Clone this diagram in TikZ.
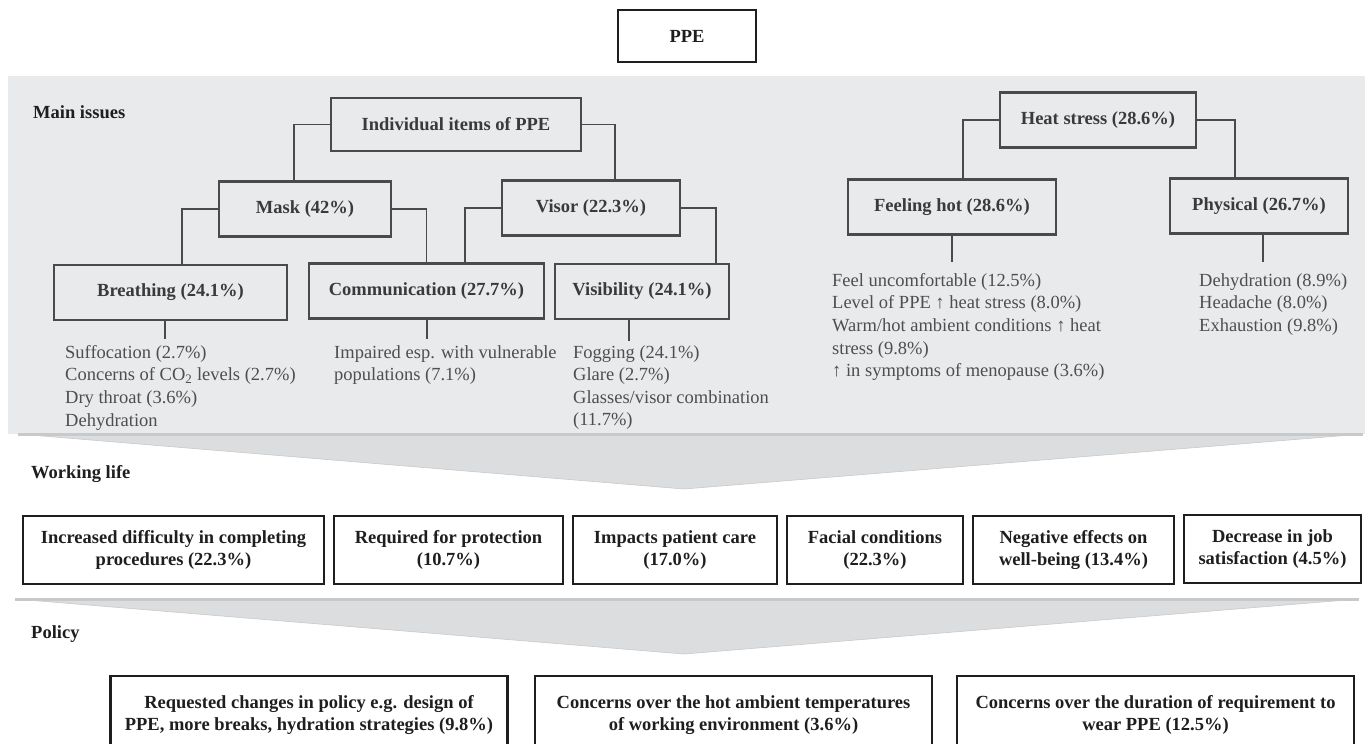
\documentclass[tikz,border=0pt]{standalone}
\usepackage{fontspec}
\setmainfont{Liberation Serif}
\usepackage{tikz}
\usetikzlibrary{positioning,calc}
\definecolor{panelgray}{HTML}{E9EAEC}
\definecolor{chevgray}{HTML}{DCDDDF}
\definecolor{chevedge}{HTML}{C8C9CB}
\definecolor{boxline}{HTML}{4A4A4A}
\definecolor{boxtext}{HTML}{3A3A3A}
\definecolor{itemgray}{HTML}{4E4E4E}
\definecolor{lifeline}{HTML}{1E1E1E}
\newcommand{\figfont}{\fontsize{18.5}{22.6}\selectfont}
\tikzset{
	issuebox/.style={draw=boxline,line width=2.8pt,text=boxtext,font=\figfont\bfseries,minimum height=55pt,inner sep=0pt},
	lifebox/.style={draw=lifeline,line width=2.6pt,text=lifeline,font=\figfont\bfseries,align=center,minimum height=68pt,inner sep=0pt},
	policybox/.style={lifebox,minimum width=397pt,minimum height=78pt},
	itemlist/.style={anchor=north west,align=left,inner sep=0pt,text=itemgray,font=\figfont},
	sectlabel/.style={anchor=base west,inner sep=0pt,text=lifeline,font=\figfont\bfseries},
	link/.style={draw=boxline,line width=1.6pt},
	stem/.style={draw=boxline,line width=2pt}
}

\begin{document}
\begin{tikzpicture}[x=1pt,y=-1pt]
		\useasboundingbox (0,0) rectangle (1368,744);
		\clip (0,0) rectangle (1368,744);
		\node[issuebox,draw=lifeline,text=lifeline,minimum width=138pt,minimum height=52pt] (ppe) at (687,36) {PPE};
		\fill[panelgray] (8,76) rectangle (1365,434);
		\filldraw[fill=chevgray,draw=chevedge,line width=0.6pt] (18,434) -- (1363,434) -- (684,489) -- cycle;
		\draw[chevedge,line width=3pt] (18,434) -- (1363,434);
		\filldraw[fill=chevgray,draw=chevedge,line width=0.6pt] (15,599) -- (1359,599) -- (684,654) -- cycle;
		\draw[chevedge,line width=3pt] (15,599) -- (1359,599);
		\node[sectlabel] (mainlbl) at (33,118) {Main issues};
		\node[sectlabel] (worklbl) at (31,478) {Working life};
		\node[sectlabel] (policylbl) at (31,638) {Policy};
		\node[issuebox,minimum width=250pt,minimum height=53pt] (items) at (456,124.5) {Individual items of PPE};
		\node[issuebox,minimum width=172pt] (mask) at (305,209) {Mask (42\%)};
		\node[issuebox,minimum width=178pt] (visor) at (591,208) {Visor (22.3\%)};
		\node[issuebox,minimum width=233pt] (breath) at (170.5,292.5) {Breathing (24.1\%)};
		\node[issuebox,minimum width=235pt] (comm) at (426.5,291) {Communication (27.7\%)};
		\node[issuebox,minimum width=174pt] (visib) at (642,291.5) {Visibility (24.1\%)};
		\node[issuebox,minimum width=196pt] (heat) at (1098,120) {Heat stress (28.6\%)};
		\node[issuebox,minimum width=208pt] (hot) at (952,207) {Feeling hot (28.6\%)};
		\node[issuebox,minimum width=178pt] (phys) at (1259,206) {Physical (26.7\%)};
		\draw[link] (items.west) -| ([xshift=-11pt]mask.north);
		\draw[link] (items.east) -| ([xshift=24pt]visor.north);
		\draw[link] (mask.west) -| ([xshift=11.5pt]breath.north);
		\draw[link] (mask.east) -| (comm.north);
		\draw[link] (visor.west) -| ([xshift=38.5pt]comm.north);
		\draw[link] (visor.east) -| ([xshift=74pt]visib.north);
		\draw[link] (heat.west) -| ([xshift=11pt]hot.north);
		\draw[link] (heat.east) -| ([xshift=-24pt]phys.north);
		\node[itemlist] (breathlist) at (65,345) {Suffocation (2.7\%)\\Concerns of CO\textsubscript{2} levels (2.7\%)\\Dry throat (3.6\%)\\Dehydration};
		\node[itemlist] (commlist) at (334,345) {Impaired esp. with vulnerable\\populations (7.1\%)};
		\node[itemlist] (visiblist) at (573,345) {Fogging (24.1\%)\\Glare (2.7\%)\\Glasses/visor combination\\(11.7\%)};
		\node[itemlist] (hotlist) at (832,273) {Feel uncomfortable (12.5\%)\\Level of PPE ↑ heat stress (8.0\%)\\Warm/hot ambient conditions ↑ heat\\stress (9.8\%)\\↑ in symptoms of menopause (3.6\%)};
		\node[itemlist] (physlist) at (1199,273) {Dehydration (8.9\%)\\Headache (8.0\%)\\Exhaustion (9.8\%)};
		\draw[stem] ([xshift=-6pt]breath.south) -- ([xshift=-6pt,yshift=6pt]breath.south |- breathlist.north);
		\draw[stem] (comm.south) -- ([yshift=6pt]comm.south |- commlist.north);
		\draw[stem] ([xshift=-13pt]visib.south) -- ([xshift=-13pt,yshift=4pt]visib.south |- visiblist.north);
		\draw[stem] (hot.south) -- ([yshift=11pt]hot.south |- hotlist.north);
		\draw[stem] ([xshift=4pt]phys.south) -- ([xshift=4pt,yshift=11pt]phys.south |- physlist.north);
		\node[lifebox,minimum width=301pt] (difficulty) at (173.5,550) {Increased difficulty in completing\\procedures (22.3\%)};
		\node[lifebox,minimum width=229pt] (protection) at (448.5,550) {Required for protection\\(10.7\%)};
		\node[lifebox,minimum width=204pt] (patient) at (675,550) {Impacts patient care\\(17.0\%)};
		\node[lifebox,minimum width=176pt] (facial) at (875,550) {Facial conditions\\(22.3\%)};
		\node[lifebox,minimum width=201pt] (wellbeing) at (1073.5,550) {Negative effects on\\well-being (13.4\%)};
		\node[lifebox,minimum width=177pt] (jobsat) at (1272.5,549) {Decrease in job\\satisfaction (4.5\%)};
		\node[policybox] (changes) at (309,715) {Requested changes in policy e.g. design of\\PPE, more breaks, hydration strategies (9.8\%)};
		\node[policybox] (ambient) at (733.5,715) {Concerns over the hot ambient temperatures\\of working environment (3.6\%)};
		\node[policybox] (duration) at (1155.5,715) {Concerns over the duration of requirement to\\wear PPE (12.5\%)};
\end{tikzpicture}
\end{document}
